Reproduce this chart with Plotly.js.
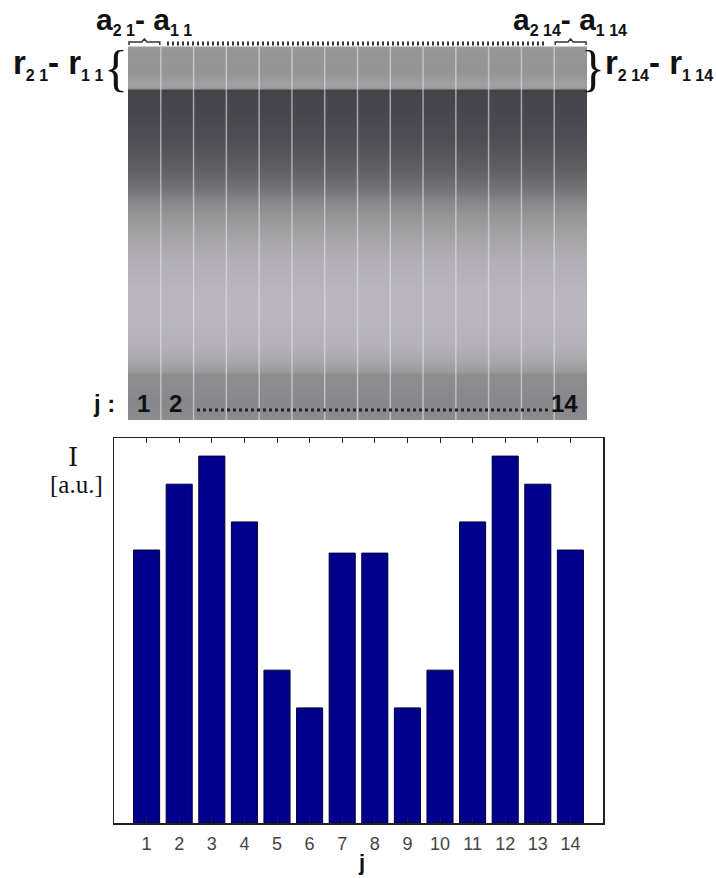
<!DOCTYPE html>
<html><head><meta charset="utf-8">
<script src="https://cdn.plot.ly/plotly-3.0.1.min.js"></script>
<style>html,body{margin:0;padding:0;background:#fff}#chart{width:716px;height:878px}</style>
</head><body><div id="chart"></div>
<script>
// ---- data ----
const j = [1,2,3,4,5,6,7,8,9,10,11,12,13,14];
const tickLabels = ['1','2','3','4','5','6','7','8','9','10','11','12','13','14'];
const intensity = [0.709,0.880,0.953,0.782,0.397,0.299,0.701,0.701,0.299,0.397,0.782,0.953,0.880,0.709];
// grey level profile of the detector image, top (r band) to bottom (j band)
const profileRows = [47,48,70,84,88,89.5,92,110,140,170,190,200,215,235,260,290,320,345,360,368,372,373.5,385,400,419,420];
const profileGray = [156,152,148,162,152,68,70,72,80,98,118,135,150,165,178,185,185,180,170,160,152,142,140,136,140,140];
const separators = [1.5,2.5,3.5,4.5,5.5,6.5,7.5,8.5,9.5,10.5,11.5,12.5,13.5];
const braceCols = [1,14];

// ---- helpers (layout only) ----
const W = 716, H = 878;
const px = x => x / W;
const py = y => 1 - y / H;

const sepX = [], sepY = [];
separators.forEach(s => { sepX.push(s, s, null); sepY.push(profileRows[0], profileRows[profileRows.length-1], null); });

const grayScale = [[0,'rgb(0,0,0)'],[0.26,'rgb(66,65,71)'],[0.55,'rgb(140,139,143)'],[0.59,'rgb(150,150,150)'],[0.70,'rgb(178,175,182)'],[0.73,'rgb(187,183,191)'],[1,'rgb(255,255,255)']];

const traces = [
  {type:'heatmap', x:j, y:profileRows, z:profileGray.map(g => j.map(() => g)),
   xaxis:'x2', yaxis:'y2', zsmooth:'best', zmin:0, zmax:255, colorscale:grayScale,
   showscale:false, hoverinfo:'skip'},
  {type:'scatter', mode:'lines', x:sepX, y:sepY, xaxis:'x2', yaxis:'y2',
   line:{color:'rgba(228,228,234,0.6)', width:1.5}, hoverinfo:'skip'},
  {type:'bar', x:j, y:intensity, width:0.8, xaxis:'x', yaxis:'y',
   marker:{color:'#00008c', line:{color:'#00003a', width:1}}, hoverinfo:'skip'}
];

const sansB = 'Liberation Sans, Arial, sans-serif';
const serif = 'Liberation Serif, DejaVu Serif, serif';

const shapes = [
  {type:'line', xref:'paper', yref:'paper', x0:px(167), x1:px(544), y0:py(43.5), y1:py(43.5),
   line:{color:'#333', width:4, dash:'2px,3px'}},
  {type:'line', xref:'paper', yref:'paper', x0:px(197), x1:px(548), y0:py(410), y1:py(410),
   line:{color:'#222', width:3, dash:'3px,3px'}}
];
braceCols.forEach(c => {
  shapes.push({type:'path', xref:'x2', yref:'y2',
    path:`M ${c-0.47},45 L ${c-0.47},42 L ${c-0.08},42 L ${c},39 L ${c+0.08},42 L ${c+0.47},42 L ${c+0.47},45`,
    line:{color:'#333', width:1.5}});
});

const sub = t => '<sub><span style="font-size:16px">' + t + '</span></sub>';

const ann = (x, y, text, size, family, extra) => Object.assign({
  xref:'paper', yref:'paper', x:px(x), y:py(y), text:text, showarrow:false,
  font:{family:family, size:size, color:'#111'}, xanchor:'center', yanchor:'middle'}, extra || {});

const annotations = [
  ann(73, 457, 'I', 26, 'DejaVu Serif, serif'),
  ann(105, 484, '[a.u.]', 25, serif, {xanchor:'right'}),
  ann(361, 862, '<b>j</b>', 22, sansB),
  ann(144, 21, '<b>a' + sub('2 1') + '- a' + sub('1 1') + '</b>', 30, sansB),
  ann(570, 21, '<b>a' + sub('2 14') + '- a' + sub('1 14') + '</b>', 30, sansB),
  ann(105, 64, '<b>r' + sub('2 1') + '- r' + sub('1 1') + '</b>', 33, sansB, {xanchor:'right'}),
  ann(116, 68, '{', 50, serif),
  ann(593, 68, '}', 50, serif),
  ann(603, 64, '<b>r' + sub('2 14') + '- r' + sub('1 14') + '</b>', 33, sansB, {xanchor:'left'}),
  ann(117, 403, '<b>j :</b>', 24, sansB, {xanchor:'right'}),
  ann(143, 403, '<b>1</b>', 24, sansB),
  ann(175.5, 403, '<b>2</b>', 24, sansB),
  ann(564, 403, '<b>14</b>', 24, sansB)
];

const layout = {
  width:W, height:H, margin:{l:0,r:0,t:0,b:0,pad:0},
  paper_bgcolor:'#fff', plot_bgcolor:'#fff', showlegend:false,
  xaxis:{domain:[px(114),px(603)], range:[0,15], tickvals:j, ticktext:tickLabels,
    ticks:'inside', ticklen:5, tickwidth:1, tickcolor:'#222', showline:true, linecolor:'#222',
    linewidth:1.5, mirror:'ticks', showgrid:false, zeroline:false, ticklabelstandoff:4,
    tickfont:{family:'Liberation Sans, Arial, sans-serif', size:18, color:'#444'}, anchor:'y', fixedrange:true},
  yaxis:{domain:[py(823),py(438)], range:[0,1], showticklabels:false, ticks:'', showline:true,
    linecolor:'#222', linewidth:1.5, mirror:true, showgrid:false, zeroline:false, anchor:'x', fixedrange:true},
  xaxis2:{domain:[px(128),px(587)], range:[0.5,14.5], visible:false, anchor:'y2', fixedrange:true},
  yaxis2:{domain:[py(420),py(38)], range:[420,38], visible:false, anchor:'x2', fixedrange:true},
  shapes:shapes, annotations:annotations
};

Plotly.newPlot('chart', traces, layout, {staticPlot:true, displayModeBar:false});
</script></body></html>
